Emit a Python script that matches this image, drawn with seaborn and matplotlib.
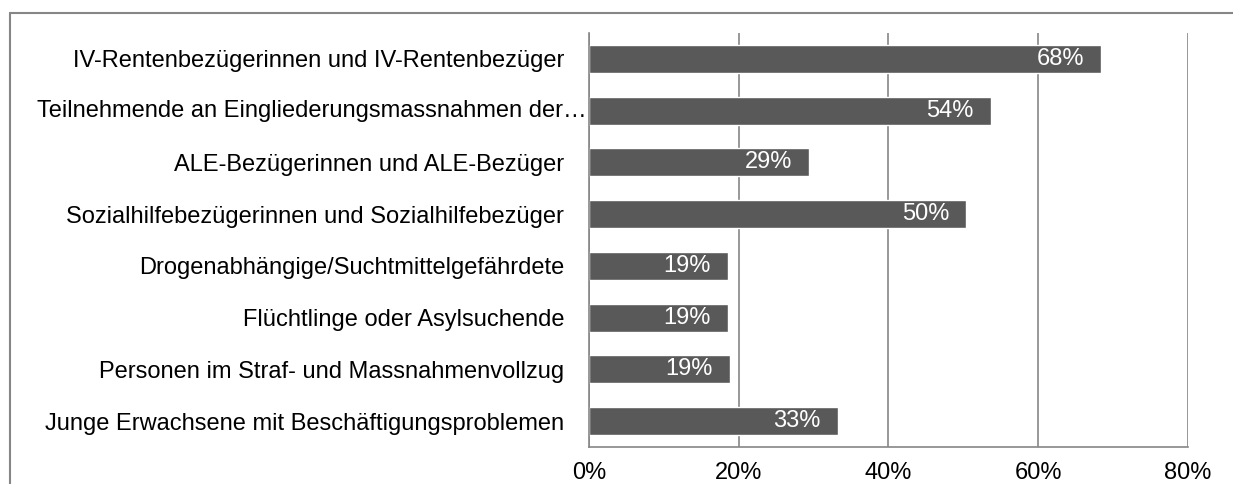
import matplotlib
matplotlib.use("Agg")
import matplotlib.pyplot as plt
import pandas as pd
import seaborn as sns
from matplotlib.lines import Line2D

# Data
categories = [
    "IV-Rentenbezügerinnen und IV-Rentenbezüger",
    "Teilnehmende an Eingliederungsmassnahmen der\u2026",
    "ALE-Bezügerinnen und ALE-Bezüger",
    "Sozialhilfebezügerinnen und Sozialhilfebezüger",
    "Drogenabhängige/Suchtmittelgefährdete",
    "Flüchtlinge oder Asylsuchende",
    "Personen im Straf- und Massnahmenvollzug",
    "Junge Erwachsene mit Beschäftigungsproblemen",
]
shares = [68.4, 53.7, 29.4, 50.4, 18.5, 18.5, 18.8, 33.2]
bar_labels = ["68%", "54%", "29%", "50%", "19%", "19%", "19%", "33%"]
x_ticks = [0, 20, 40, 60, 80]
x_ticklabels = ["0%", "20%", "40%", "60%", "80%"]

df = pd.DataFrame({"group": categories, "share": shares})

sns.set_style("white")
plt.rcParams["font.family"] = ["Liberation Sans", "DejaVu Sans"]

grey = "#868686"
fs = 17

fig = plt.figure(figsize=(12.33, 4.84), dpi=100)
ax = fig.add_axes([0.4777, 0.0764, 0.4858, 0.8554])

sns.barplot(data=df, x="share", y="group", orient="h", color="#595959",
            width=0.545, saturation=1, ax=ax)

# value labels inside the bar ends
for patch, lab in zip(ax.patches, bar_labels):
    ax.annotate(lab, (patch.get_x() + patch.get_width(), patch.get_y() + patch.get_height() / 2),
                xytext=(-12.5, 0), textcoords="offset points", ha="right", va="center",
                color="white", fontsize=fs)

ax.set_xlim(0, 80)
ax.set_ylim(7.5, -0.5)
ax.set_xticks(x_ticks)
ax.set_xticklabels(x_ticklabels, fontsize=fs, color="black")

# the long (truncated) label sits right against the axis, the others keep a gap
ylabels = list(categories)
ylabels[1] = ""
ax.set_yticks(range(len(categories)))
ax.set_yticklabels(ylabels, fontsize=fs, color="black")
ax.annotate(categories[1], xy=(0, 1), xycoords=("axes fraction", "data"),
            xytext=(-1.5, 0), textcoords="offset points", ha="right", va="center",
            fontsize=fs, color="black")

ax.set_yticks([i - 0.5 for i in range(len(categories) + 1)], minor=True)
ax.tick_params(axis="y", which="major", length=0, pad=18)
ax.tick_params(axis="y", which="minor", length=5, color=grey, width=1.2)
ax.tick_params(axis="x", which="major", length=6, color=grey, width=1.2, pad=5)
ax.set_xlabel("")
ax.set_ylabel("")

ax.xaxis.grid(True, color=grey, linewidth=1.2)
ax.set_axisbelow(True)
for side in ["top", "right"]:
    ax.spines[side].set_visible(False)
for side in ["left", "bottom"]:
    ax.spines[side].set_color(grey)
    ax.spines[side].set_linewidth(1.2)

# outer chart frame (top and left edges visible)
fig.add_artist(Line2D([0.0081, 1.0], [0.973, 0.973], transform=fig.transFigure,
                      color=grey, linewidth=1.5))
fig.add_artist(Line2D([0.0081, 0.0081], [0.0, 0.973], transform=fig.transFigure,
                      color=grey, linewidth=1.5))

fig.savefig("out.png", dpi=100)
